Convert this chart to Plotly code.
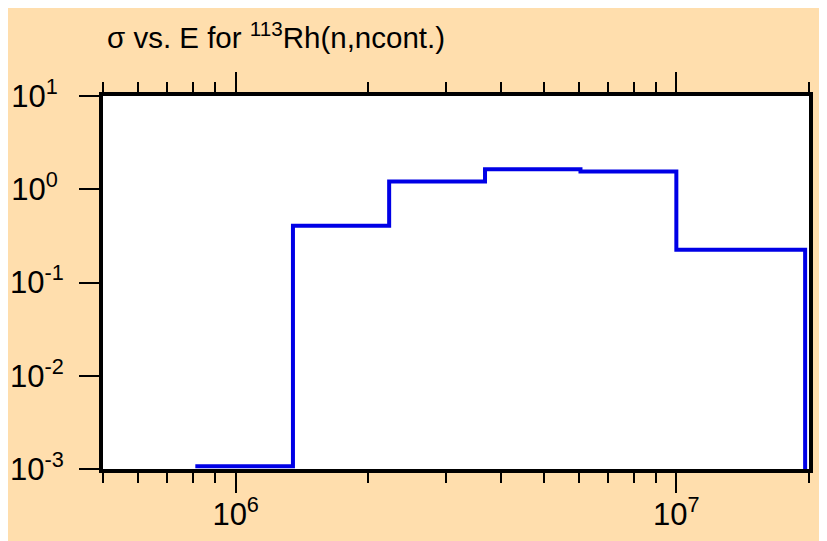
import plotly.graph_objects as go
import math

# Bin edges (eV) and cross-section values (b), step histogram
edges = [8.1e5, 1.349e6, 2.23e6, 3.68e6, 6.06e6, 1.0e7, 1.96e7]
sigma = [1.07e-3, 0.407, 1.21, 1.64, 1.55, 0.224, 1e-4]

ytickvals = [1e-3, 1e-2, 1e-1, 1e0, 1e1]
yticktext = ["10<sup>-3</sup>", "10<sup>-2</sup>", "10<sup>-1</sup>", "10<sup>0&nbsp;</sup>", "10<sup>1&nbsp;</sup>"]
xtickvals = [1e6, 1e7]
xticktext = ["10<sup>6</sup>", "10<sup>7</sup>"]

font_family = "Liberation Sans, Arial, sans-serif"

fig = go.Figure()
fig.add_trace(go.Scatter(
    x=edges, y=sigma, mode="lines", line_shape="hv",
    line=dict(color="#0000e6", width=4), showlegend=False,
))

fig.update_layout(
    width=827, height=541,
    paper_bgcolor="#FFDEAD", plot_bgcolor="white",
    margin=dict(l=95, r=26, t=88, b=80, autoexpand=False),
    font=dict(family=font_family, size=31, color="black"),
    title=dict(text="σ vs. E for <sup>113</sup>Rh(n,ncont.)",
               x=99/827, xanchor="left", xref="container",
               y=1-40/541, yanchor="bottom", yref="container",
               font=dict(size=29.5, family=font_family)),
)
fig.update_xaxes(
    type="log", range=[math.log10(5e5), math.log10(2e7)],
    tickvals=xtickvals, ticktext=xticktext,
    ticks="outside", ticklen=20, tickwidth=2, tickcolor="black",
    showline=True, linewidth=4, linecolor="black", mirror="ticks",
    showgrid=False, zeroline=False, automargin=False,
    minor=dict(ticks="outside", ticklen=10, tickwidth=2, tickcolor="black", dtick="D1", showgrid=False),
    tickfont=dict(size=31), ticklabelstandoff=-5,
)
fig.update_yaxes(
    type="log", range=[-3, 1],
    tickvals=ytickvals, ticktext=yticktext,
    ticks="outside", ticklen=20, tickwidth=2, tickcolor="black",
    showline=True, linewidth=4, linecolor="black", mirror=True,
    showgrid=False, zeroline=False, automargin=False,
    tickfont=dict(size=31), ticklabelstandoff=9,
)

fig.write_html("out.html")
